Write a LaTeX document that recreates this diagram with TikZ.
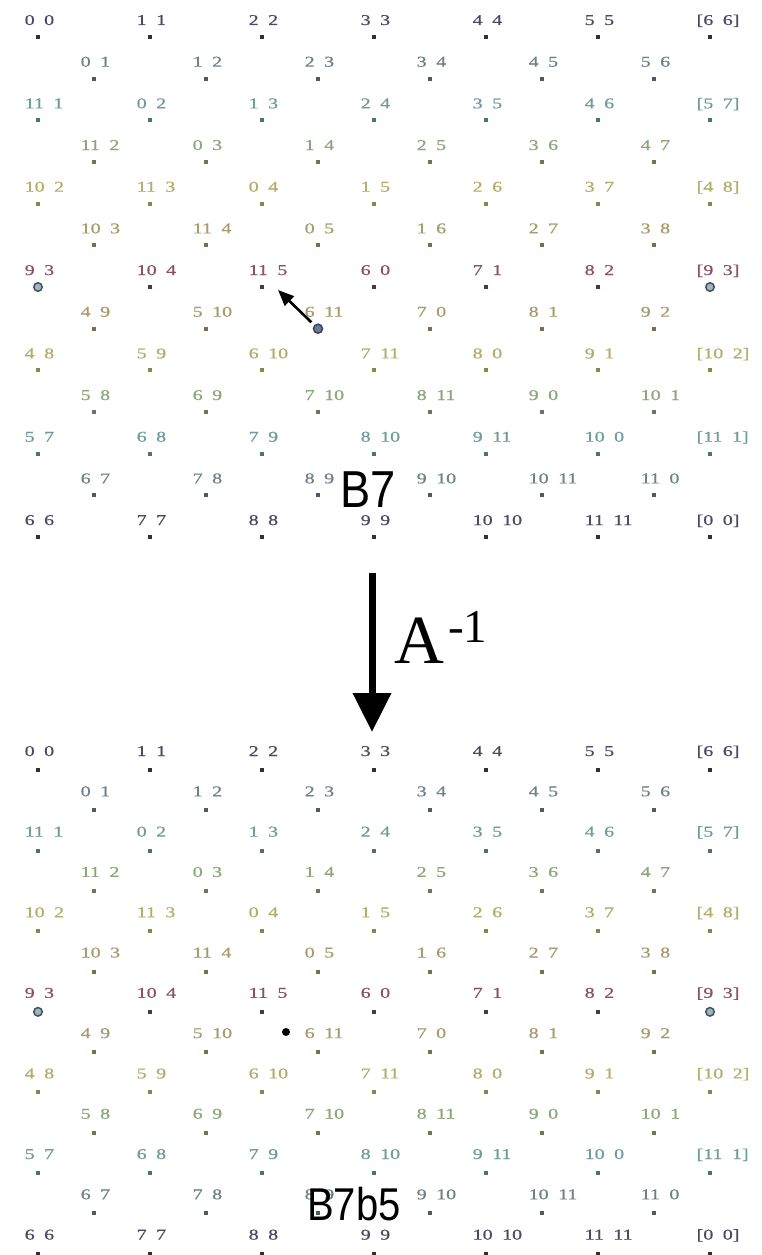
\documentclass[tikz,border=0pt]{standalone}
\usepackage{fontspec}
\setmainfont{Liberation Serif}
\newfontfamily\labfont[FakeStretch=1.33,FakeBold=0.6]{Liberation Serif}
\newfontfamily\bigsans[FakeStretch=0.87]{Liberation Sans}
\usetikzlibrary{arrows.meta}
\definecolor{lab0}{HTML}{4A4A66}\definecolor{dot0}{HTML}{2E2E48}
\definecolor{lab1}{HTML}{6F8088}\definecolor{dot1}{HTML}{4C5C66}
\definecolor{lab2}{HTML}{6E9C98}\definecolor{dot2}{HTML}{4B7572}
\definecolor{lab3}{HTML}{88A878}\definecolor{dot3}{HTML}{5F7F52}
\definecolor{lab4}{HTML}{B4AC68}\definecolor{dot4}{HTML}{8C8448}
\definecolor{lab5}{HTML}{A89A6C}\definecolor{dot5}{HTML}{7C6E4C}
\definecolor{lab6}{HTML}{8C5064}\definecolor{dot6}{HTML}{5A3444}
\definecolor{ringc}{HTML}{3E5560}\definecolor{ringf}{HTML}{A0B4BC}
\definecolor{ringbc}{HTML}{3A4260}\definecolor{ringbf}{HTML}{6A7A98}
\newcommand\lbk{[}
\newcommand\rbk{]}
\tikzset{
  lab/.style={anchor=base west, inner sep=0pt, font=\labfont\fontsize{15}{15}\selectfont},
  sq/.style={rectangle, inner sep=0pt, minimum size=4pt, draw=none},
  ring/.style={circle, inner sep=0pt, minimum size=8.5pt, line width=1.5pt, draw=ringc, fill=ringf},
  ringb/.style={circle, inner sep=0pt, minimum size=9pt, line width=1.5pt, draw=ringbc, fill=ringbf},
  bigdot/.style={circle, inner sep=0pt, minimum size=8pt, fill=black},
  bigsanslab/.style={anchor=base west, inner sep=0pt, text=black},
  bigarrow/.style={line width=7pt, -{Triangle[length=39pt,width=37pt]}},
  smallarrow/.style={line width=2.6pt, -{Triangle[length=16pt,width=13pt]}, shorten <=4pt},
}
% #1 prefix, #2 row, #3 dot y, #4 x0, #5 colour index, #6 list a/b/style
\newcommand\latrow[6]{%
  \foreach \a/\b/\s [count=\k from 0] in {#6} {
    \pgfmathsetmacro\xx{#4+112*\k}
    \node[fill=dot#5, sq, \s] (#1-#2-\k) at (\xx,#3) {};
    \node[lab, text=lab#5] (#1-#2-\k-l) at (\xx-13.5,#3-\labofs) {\a\hspace{9.5pt}\b};
  }}
% #1 prefix, #2 y0, #3 dy, #4 label offset, #5 style of the 6 11 point
\newcommand\lattice[5]{%
  \def\labofs{#4}%
  \latrow{#1}{0}{#2+0*#3}{38}{0}{0/0/sq,1/1/sq,2/2/sq,3/3/sq,4/4/sq,5/5/sq,\lbk6/6\rbk/sq}
  \latrow{#1}{1}{#2+1*#3}{94}{1}{0/1/sq,1/2/sq,2/3/sq,3/4/sq,4/5/sq,5/6/sq}
  \latrow{#1}{2}{#2+2*#3}{38}{2}{11/1/sq,0/2/sq,1/3/sq,2/4/sq,3/5/sq,4/6/sq,\lbk5/7\rbk/sq}
  \latrow{#1}{3}{#2+3*#3}{94}{3}{11/2/sq,0/3/sq,1/4/sq,2/5/sq,3/6/sq,4/7/sq}
  \latrow{#1}{4}{#2+4*#3}{38}{4}{10/2/sq,11/3/sq,0/4/sq,1/5/sq,2/6/sq,3/7/sq,\lbk4/8\rbk/sq}
  \latrow{#1}{5}{#2+5*#3}{94}{5}{10/3/sq,11/4/sq,0/5/sq,1/6/sq,2/7/sq,3/8/sq}
  \latrow{#1}{6}{#2+6*#3}{38}{6}{9/3/ring,10/4/sq,11/5/sq,6/0/sq,7/1/sq,8/2/sq,\lbk9/3\rbk/ring}
  \latrow{#1}{7}{#2+7*#3}{94}{5}{4/9/sq,5/10/sq,6/11/#5,7/0/sq,8/1/sq,9/2/sq}
  \latrow{#1}{8}{#2+8*#3}{38}{4}{4/8/sq,5/9/sq,6/10/sq,7/11/sq,8/0/sq,9/1/sq,\lbk10/2\rbk/sq}
  \latrow{#1}{9}{#2+9*#3}{94}{3}{5/8/sq,6/9/sq,7/10/sq,8/11/sq,9/0/sq,10/1/sq}
  \latrow{#1}{10}{#2+10*#3}{38}{2}{5/7/sq,6/8/sq,7/9/sq,8/10/sq,9/11/sq,10/0/sq,\lbk11/1\rbk/sq}
  \latrow{#1}{11}{#2+11*#3}{94}{1}{6/7/sq,7/8/sq,8/9/sq,9/10/sq,10/11/sq,11/0/sq}
  \latrow{#1}{12}{#2+12*#3}{38}{0}{6/6/sq,7/7/sq,8/8/sq,9/9/sq,10/10/sq,11/11/sq,\lbk0/0\rbk/sq}
}
\begin{document}
\begin{tikzpicture}[x=1pt,y=-1pt]
  \useasboundingbox[fill=white] (0,0) rectangle (762,1255);
  % upper lattice
  \lattice{t}{37}{41.67}{12}{ringb}
  \coordinate (tip) at (278,290);
  \draw[smallarrow] (t-7-2) -- (tip);
  \node[bigsanslab, font=\bigsans\fontsize{52}{52}\selectfont] (B7) at (340,507) {B7};
  % arrow A^-1
  \coordinate (atop) at (372,573);
  \coordinate (abot) at (372,732);
  \draw[bigarrow] (atop) -- (abot);
  \node[anchor=base west, inner sep=0pt] (Ainv) at (394,663)
    {\fontsize{69}{69}\selectfont A\hspace{4pt}\raisebox{21pt}{\fontsize{47}{47}\selectfont -1}};
  % lower lattice
  \lattice{b}{770}{40.3}{14}{sq}
  \node[bigdot] (moved) at (286,1032) {};
  \node[bigsanslab, font=\bigsans\fontsize{46}{46}\selectfont] (B7b5) at (307,1220) {B7b5};
\end{tikzpicture}
\end{document}
